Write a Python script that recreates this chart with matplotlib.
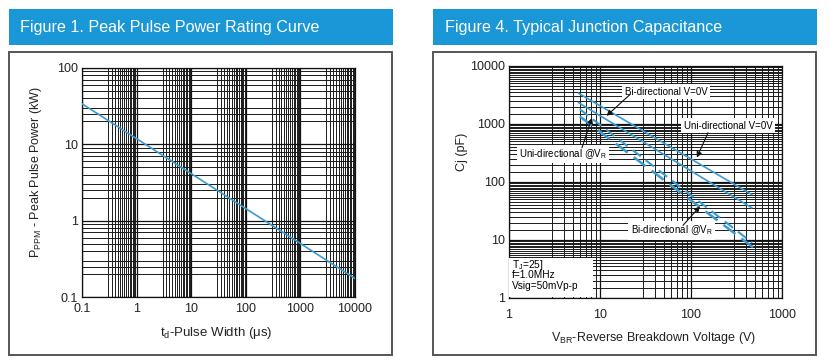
import numpy as np
import matplotlib
matplotlib.use("Agg")
import matplotlib.pyplot as plt
from matplotlib.patches import Rectangle

plt.rcParams['font.family'] = ['Liberation Sans', 'DejaVu Sans']
plt.rcParams['mathtext.fontset'] = 'custom'
plt.rcParams['mathtext.rm'] = 'Liberation Sans'
plt.rcParams['mathtext.default'] = 'regular'

# ---------------- data ----------------
# Figure 1: Peak pulse power rating curve
pulse_width_us = [0.1, 10000]
peak_power_kw = [34, 0.175]
fig1_xticks = [0.1, 1, 10, 100, 1000, 10000]
fig1_xticklabels = ['0.1', '1', '10', '100', '1000', '10000']
fig1_yticks = [0.1, 1, 10, 100]
fig1_yticklabels = ['0.1', '1', '10', '100']

# Figure 4: Typical junction capacitance
vbr_bi_0v = [5.8, 464]
cj_bi_0v = [3400, 61]
vbr_uni_0v = [5.8, 464]
cj_uni_0v = [2340, 36]
vbr_uni_vr = [6.0, 470]
cj_uni_vr = [1800, 9.0]
vbr_bi_vr = [6.0, 480]
cj_bi_vr = [1350, 7.5]
fig4_xticks = [1, 10, 100, 1000]
fig4_xticklabels = ['1', '10', '100', '1000']
fig4_yticks = [1, 10, 100, 1000, 10000]
fig4_yticklabels = ['1', '10', '100', '1000', '10000']

W, H = 830, 362
fig = plt.figure(figsize=(W / 100, H / 100), dpi=100)
fig.patch.set_facecolor('white')

BLUE = '#1a97d6'
LINE = '#3b9bd2'


def rect(x0, y0, x1, y1):
    return [x0 / W, 1 - y1 / H, (x1 - x0) / W, (y1 - y0) / H]


# panel frames and title bars (figure decoration)
for (bx0, bx1, title, tx) in [(9, 393, 'Figure 1. Peak Pulse Power Rating Curve', 20),
                              (433, 817, 'Figure 4. Typical Junction Capacitance', 445)]:
    fig.patches.append(Rectangle((bx0 / W, 1 - 45 / H), (bx1 - bx0) / W, 36 / H,
                                 transform=fig.transFigure, facecolor=BLUE,
                                 edgecolor='none', zorder=0))
    fig.patches.append(Rectangle((bx0 / W, 1 - 355 / H), (bx1 - bx0 - 1) / W, 303 / H,
                                 transform=fig.transFigure, facecolor='none',
                                 edgecolor='#555555', lw=1.4, zorder=0))
    fig.text(tx / W, 1 - 27.5 / H, title, color='white', fontsize=11.6,
             ha='left', va='center')


def style_axes(ax, xminor, yminor):
    ax.set_xscale('log')
    ax.set_yscale('log')
    ax.set_xticks(xminor, minor=True)
    ax.set_yticks(yminor, minor=True)
    ax.tick_params(which='both', length=0, labelsize=9, colors='#222222', pad=3)
    ax.tick_params(which='minor', labelbottom=False, labelleft=False)
    ax.grid(which='major', color='#111111', lw=0.9)
    ax.grid(which='minor', color='#1a1a1a', lw=0.7)
    ax.set_axisbelow(True)
    for s in ax.spines.values():
        s.set_color('#111111')
        s.set_linewidth(0.9)


# ---------------- Figure 1 ----------------
ax1 = fig.add_axes(rect(82, 68, 355, 297))
xm1 = []
for d in [0.1, 1, 10, 100, 1000]:
    xm1 += [d * v for v in [3, 3.5, 4, 4.5, 5, 5.5, 6, 6.5, 7, 7.5, 8, 8.5, 9, 9.5]]
ym1 = []
for d in [0.1, 1, 10]:
    ym1 += [d * v for v in [2, 2.5, 3, 4, 5, 6, 7, 8, 9]]
style_axes(ax1, xm1, ym1)
ax1.plot(pulse_width_us, peak_power_kw, color=LINE, lw=1.2, zorder=3)
ax1.set_xlim(0.1, 10000)
ax1.set_ylim(0.1, 100)
ax1.set_xticks(fig1_xticks, fig1_xticklabels)
ax1.set_yticks(fig1_yticks, fig1_yticklabels)
ax1.tick_params(axis='x', pad=4)
fig.text(216 / W, 1 - 333 / H, r't$_{d}$-Pulse Width ($\mu$s)', fontsize=9.5,
         ha='center', va='center', color='#222222')
fig.text(36 / W, 1 - 172 / H, r'P$_{PPM}$ - Peak Pulse Power (kW)', fontsize=9,
         ha='center', va='center', rotation=90, color='#222222')

# ---------------- Figure 4 ----------------
ax2 = fig.add_axes(rect(509, 66, 782, 298))
xm2 = []
for d in [1, 10, 100]:
    xm2 += [d * v for v in [3, 4, 5, 6, 7, 8, 9]]
ym2 = []
for d in [1, 10, 100, 1000]:
    ym2 += [d * v for v in np.arange(1.5, 10, 0.5)]
style_axes(ax2, xm2, ym2)
ax2.set_xlim(1, 1000)
ax2.set_ylim(1, 10000)
ax2.set_xticks(fig4_xticks, fig4_xticklabels)
ax2.set_yticks(fig4_yticks, fig4_yticklabels)
ax2.tick_params(axis='x', pad=8)

ax2.plot(vbr_bi_0v, cj_bi_0v, color=LINE, lw=1.2, zorder=3)
ax2.plot(vbr_uni_0v, cj_uni_0v, color=LINE, lw=1.2, zorder=3)
ax2.plot(vbr_uni_vr, cj_uni_vr, color=LINE, lw=1.5, ls=(0, (5, 3)), zorder=3)
ax2.plot(vbr_bi_vr, cj_bi_vr, color=LINE, lw=1.8, ls=(0, (6, 3)), zorder=3)

box = dict(boxstyle='square,pad=0.25', facecolor='white', edgecolor='none')
afs = 7
ax2.text(53, 3580, 'Bi-directional V=0V', fontsize=afs, ha='center', va='center', bbox=box, zorder=5)
ax2.text(255, 933, 'Uni-directional V=0V', fontsize=afs, ha='center', va='center', bbox=box, zorder=5)
ax2.text(3.92, 303, 'Uni-directional @V$_{R}$', fontsize=afs, ha='center', va='center', bbox=box, zorder=5)
ax2.text(61.8, 14.7, 'Bi-directional @V$_{R}$', fontsize=afs, ha='center', va='center', bbox=box, zorder=5)

ap = dict(arrowstyle='-|>', color='#111111', lw=0.8, mutation_scale=8, shrinkA=0, shrinkB=0)
ax2.annotate('', xy=(11.8, 1383), xytext=(21.5, 3250), arrowprops=ap, zorder=6)
ax2.annotate('', xy=(116, 264), xytext=(154, 708), arrowprops=ap, zorder=6)
ax2.annotate('', xy=(8.17, 1280), xytext=(6.34, 391), arrowprops=ap, zorder=6)
ax2.annotate('', xy=(125.6, 38), xytext=(81.7, 17.9), arrowprops=ap, zorder=6)

ax2.add_patch(Rectangle((0.0, 0.006), 0.308, 0.165, transform=ax2.transAxes,
                        facecolor='white', edgecolor='none', zorder=4))
cfs = 7.3
ax2.text(0.012, 0.142, 'T$_{J}$=25]', transform=ax2.transAxes, fontsize=cfs, va='center', zorder=5)
ax2.text(0.012, 0.097, 'f=1.0MHz', transform=ax2.transAxes, fontsize=cfs, va='center', zorder=5)
ax2.text(0.012, 0.052, 'Vsig=50mVp-p', transform=ax2.transAxes, fontsize=cfs, va='center', zorder=5)

fig.text(653 / W, 1 - 338 / H, r'V$_{BR}$-Reverse Breakdown Voltage (V)', fontsize=9,
         ha='center', va='center', color='#222222')
fig.text(462 / W, 1 - 152 / H, 'Cj (pF)', fontsize=9, ha='center', va='center',
         rotation=90, color='#222222')

fig.savefig('out.png', dpi=100, facecolor='white')
